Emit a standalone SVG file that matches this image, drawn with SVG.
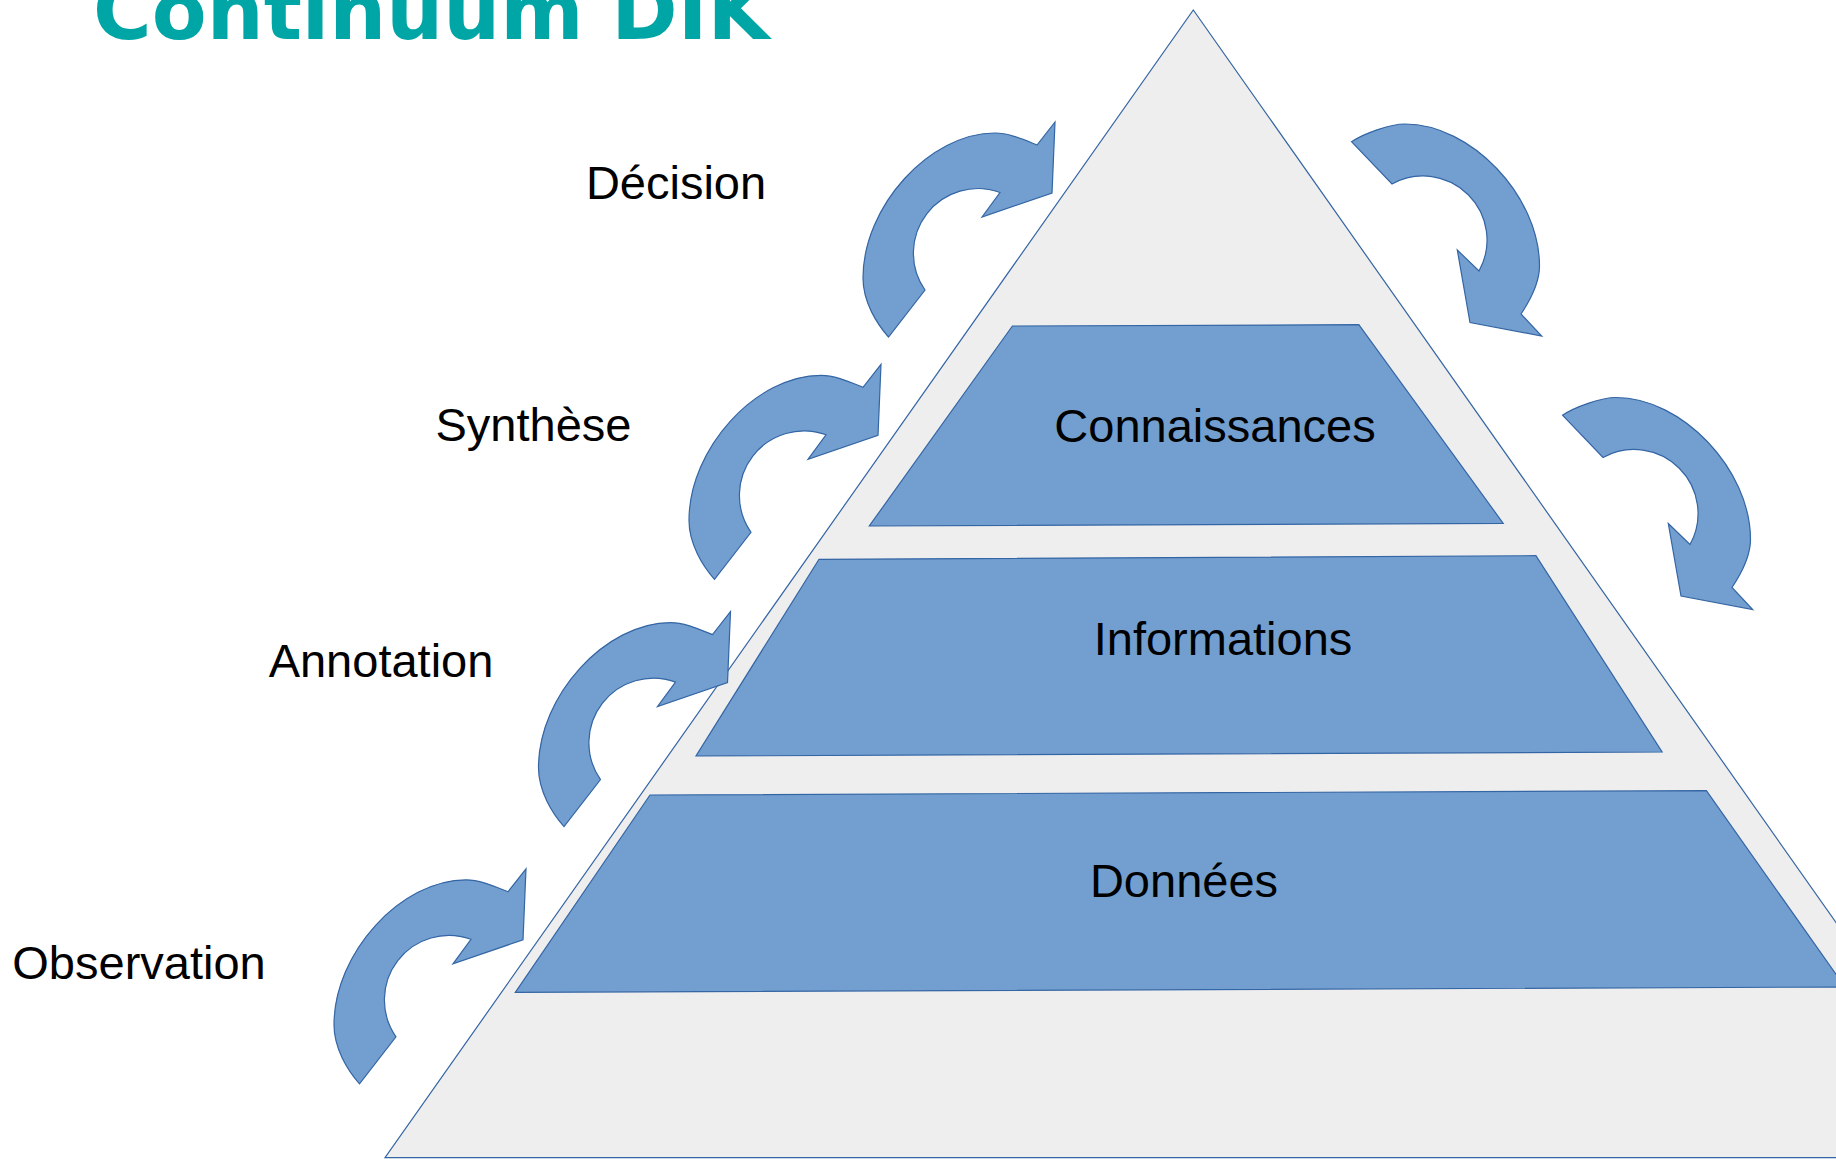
<svg xmlns="http://www.w3.org/2000/svg" xmlns:xlink="http://www.w3.org/1999/xlink" width="1836" height="1159" viewBox="0 0 1836 1159">
  <style>
    .shape { fill: #729fcf; stroke: #3465a4; stroke-width: 1.2; stroke-linejoin: miter; }
    .tri { fill: #eeeeee; stroke: #3465a4; stroke-width: 1.2; }
    .lbl { font-family: "Liberation Sans", Arial, sans-serif; font-size: 47px; fill: #000000; text-anchor: middle; }
    .title { font-family: "DejaVu Sans", sans-serif; font-weight: bold; font-size: 80px; fill: #00a6a6; }
  </style>
  <defs>
    <path id="larrow" class="shape" d="M888.5,337 C877,324 863,302 863,278 C863,206 930,133 995,133 C1009,133 1024,139.8 1037,145 L1055,122 L1052,193 L982,217 L1000,192.5 A64.5,64.5 0 0 0 925,290 Z"/>
    <path id="rarrow" class="shape" d="M1351.5,141.7 C1363.5,133.7 1390,124 1405,124 C1471,124 1539.5,196 1539.5,266 C1539.5,284 1530,300.5 1521,314 L1541.7,336 L1470,322.5 L1457.3,250 L1479,271 A64,64 0 0 0 1392,184 Z"/>
  </defs>
  <rect width="1836" height="1159" fill="#ffffff"/>

  <g id="pyramid">
    <polygon class="tri" points="1193.3,10 2001.6,1157.7 385,1157.7"/>
  </g>

  <g id="connaissances">
    <polygon class="shape" points="1012.4,326 1358.8,324.7 1503.2,523.3 869.3,526"/>
    <text class="lbl" x="1215" y="441.5">Connaissances</text>
  </g>
  <g id="informations">
    <polygon class="shape" points="819,559.3 1535.9,555.7 1662.1,752 696,756"/>
    <text class="lbl" x="1223" y="655">Informations</text>
  </g>
  <g id="donnees">
    <polygon class="shape" points="650,795 1706.4,790.7 1845,987 515.3,992.3"/>
    <text class="lbl" x="1184" y="897">Données</text>
  </g>

  <g id="arrows">
    <g id="arrow-decision"><use xlink:href="#larrow" href="#larrow"/></g>
    <g id="arrow-synthese"><use xlink:href="#larrow" href="#larrow" transform="translate(-174,242.3)"/></g>
    <g id="arrow-annotation"><use xlink:href="#larrow" href="#larrow" transform="translate(-324.5,489.6)"/></g>
    <g id="arrow-observation"><use xlink:href="#larrow" href="#larrow" transform="translate(-529,746.8)"/></g>
    <g id="arrow-right-1"><use xlink:href="#rarrow" href="#rarrow"/></g>
    <g id="arrow-right-2"><use xlink:href="#rarrow" href="#rarrow" transform="translate(211,273.5)"/></g>
  </g>

  <g id="label-decision"><text class="lbl" x="676" y="199">Décision</text></g>
  <g id="label-synthese"><text class="lbl" x="533.5" y="441">Synthèse</text></g>
  <g id="label-annotation"><text class="lbl" x="381" y="677">Annotation</text></g>
  <g id="label-observation"><text class="lbl" x="139" y="979">Observation</text></g>

  <g id="title"><text class="title" x="93" y="39">Continuum DIK</text></g>
</svg>
